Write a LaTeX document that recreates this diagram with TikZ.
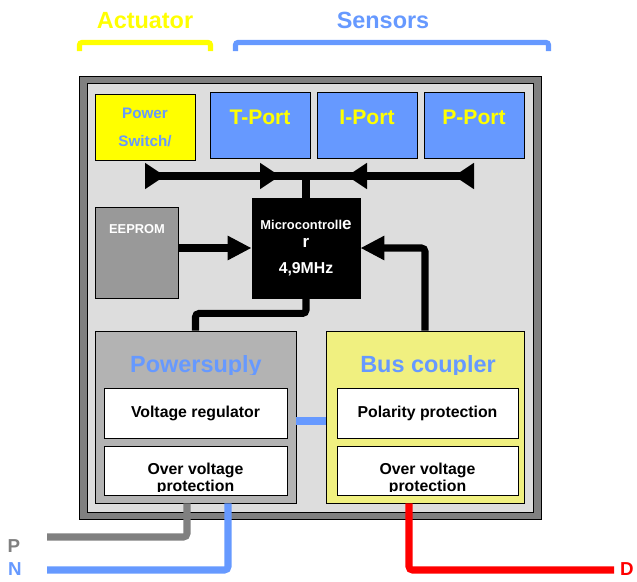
\documentclass[tikz,border=0pt]{standalone}
\usepackage{fontspec}
\setmainfont{Liberation Sans}
\usetikzlibrary{arrows.meta}
\usetikzlibrary{positioning}

\definecolor{actyellow}{HTML}{FFFF00}
\definecolor{sensblue}{HTML}{6699FF}
\definecolor{framegray}{HTML}{808080}
\definecolor{innergray}{HTML}{DDDDDD}
\definecolor{romgray}{HTML}{999999}
\definecolor{psugray}{HTML}{B3B3B3}
\definecolor{buscolor}{HTML}{F0F080}

\tikzset{
    box/.style={draw, line width=0.8pt, inner sep=0pt, align=center},
    port/.style={box, fill=sensblue, minimum width=3cm, minimum height=1.98cm},
    porttext/.style={text=actyellow, font=\bfseries\fontsize{18}{20}\selectfont, anchor=base},
    inbox/.style={box, fill=white, minimum height=1.5cm},
    intext/.style={align=center, font=\bfseries\fontsize{13.5}{14.5}\selectfont},
    heading/.style={font=\bfseries\fontsize{20}{24}\selectfont, anchor=base},
    bracket/.style={line width=4.3pt, rounded corners=2pt},
    busline/.style={line width=6pt},
    bustip/.style={busline, -{Triangle[reversed, width=0.75cm, length=0.6cm]}},
    arr/.style={line width=6pt, -{Triangle[width=0.69cm, length=0.72cm]}},
    wire/.style={line width=6pt, rounded corners=3pt},
    wirelabel/.style={font=\bfseries\fontsize{16}{18}\selectfont, anchor=base, inner sep=1pt}
}

\begin{document}
\begin{tikzpicture}[x=0.03cm, y=-0.03cm]
\useasboundingbox (0,0) rectangle (637,581);

    % headings over the device
    \node[heading, text=actyellow] (acttitle) at (145,28) {Actuator};
    \node[heading, text=sensblue] (senstitle) at (383,28) {Sensors};
    \draw[bracket, actyellow] (79.5,51) |- (210.5,42.5) -- (210.5,51);
    \draw[bracket, sensblue] (235.5,51) |- (548.5,42.5) -- (548.5,51);

    % housing
    \draw[line width=0.8pt, fill=framegray] (79,76) rectangle (541,519);
    \draw[line width=0.8pt, fill=innergray] (87,83) rectangle (533,512);

    % actuator and sensor ports
    \node[box, fill=actyellow, minimum width=3cm, minimum height=1.98cm, text=sensblue,
          font=\bfseries\fontsize{13}{24}\selectfont] (psw) at (145,127) {Power\\Switch/};
    \node[port] (tport) at (260,125) {};
    \node[port] (iport) at (367,125) {};
    \node[port] (pport) at (474,125) {};
    \node[porttext] (tporttxt) at (260,124) {T-Port};
    \node[porttext] (iporttxt) at (367,124) {I-Port};
    \node[porttext] (pporttxt) at (474,124) {P-Port};

    % memory and controller
    \node[box, fill=romgray, minimum width=2.49cm, minimum height=2.73cm] (eeprom) at (136.5,252.5) {};
    \node[text=white, font=\bfseries\fontsize{11}{13}\selectfont, anchor=base] (eepromtxt) at (137,233) {EEPROM};
    \node[box, fill=black, text=white, minimum width=3.24cm, minimum height=3cm,
          font=\bfseries\fontsize{14.5}{15.4}\selectfont] (mc) at (306,248)
          {{\fontsize{11}{15.4}\selectfont Microcontroll}e\\r\\[6.6pt]{\fontsize{13.5}{15.4}\selectfont 4,9MHz}};

    % power supply
    \node[box, fill=psugray, minimum width=6.03cm, minimum height=5.16cm] (psu) at (195.5,417) {};
    \begin{scope}
        \clip (95,331) rectangle (296,374);
        \node[heading, text=sensblue] (psutxt) at (196,372) {Powersuply};
    \end{scope}
    \node[inbox, minimum width=5.49cm, intext] (vreg) at (195.5,413) {Voltage regulator};
    \node[inbox, minimum width=5.49cm, minimum height=1.47cm] (ovpone) at (195.5,470.5) {};
    \begin{scope}
        \clip (104,446) rectangle (287,491);
        \node[intext] (ovponetxt) at (195.5,479) {Over voltage\\protection};
    \end{scope}

    % bus coupler
    \node[box, fill=buscolor, minimum width=5.94cm, minimum height=5.16cm] (bus) at (425,417) {};
    \begin{scope}
        \clip (326,331) rectangle (524,374);
        \node[heading, text=sensblue] (bustxt) at (428,372) {Bus coupler};
    \end{scope}
    \node[inbox, minimum width=5.43cm, intext] (polp) at (427.5,413) {Polarity protection};
    \node[inbox, minimum width=5.43cm, minimum height=1.47cm] (ovptwo) at (427.5,470.5) {};
    \begin{scope}
        \clip (337,446) rectangle (518,491);
        \node[intext] (ovptwotxt) at (427.5,479) {Over voltage\\protection};
    \end{scope}

    % internal bus to the ports
    \coordinate (hub) at (306,176);
    \draw[busline] (mc.north) -- (hub);
    \draw[bustip] (hub) -- (hub -| psw.south);
    \draw[bustip] (hub) -- (hub -| tport.south);
    \draw[bustip] (hub) -- (hub -| iport.south);
    \draw[bustip] (hub) -- (hub -| pport.south);

    % data and supply lines
    \draw[arr] (eeprom.east |- mc.west) -- (mc.west);
    \draw[arr, rounded corners=3pt] (bus.north) |- (mc.east);
    \draw[wire] (mc.south) -- ++(0,15) -| (psu.north);
    \draw[wire, sensblue] (psu.east |- 0,421) -- (bus.west |- 0,421);

    % external wires
    \coordinate (pend) at (47,537);
    \coordinate (nend) at (47,570);
    \coordinate (dend) at (614,570);
    \draw[wire, framegray] ([xshift=-0.255cm]psu.south) |- (pend);
    \draw[wire, sensblue] ([xshift=0.975cm]psu.south) |- (nend);
    \draw[wire, red] ([xshift=-0.48cm]bus.south) |- (dend);
    \node[wirelabel, text=framegray] (plbl) at (14,552) {P};
    \node[wirelabel, text=sensblue] (nlbl) at (15,575) {N};
    \node[wirelabel, text=red] (dlbl) at (627,575) {D};

\end{tikzpicture}
\end{document}
